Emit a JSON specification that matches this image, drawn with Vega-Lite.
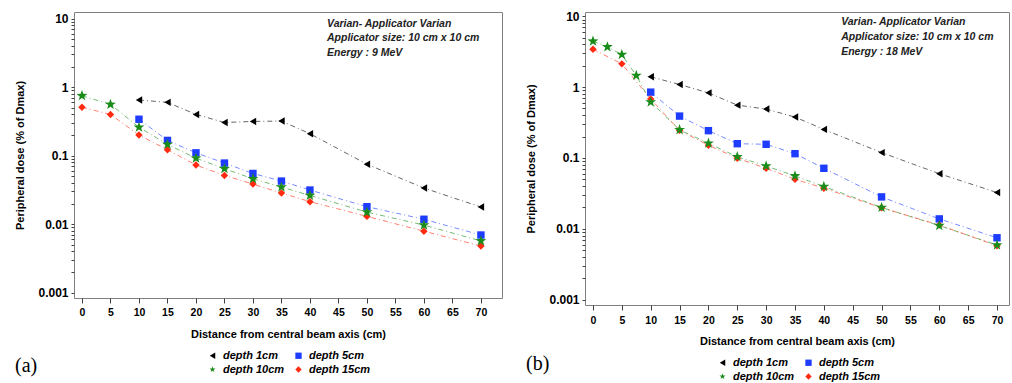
{
  "$schema": "https://vega.github.io/schema/vega-lite/v6.json",
  "background": "white",
  "padding": {"left": 14, "top": 9, "right": 0, "bottom": 0},
  "spacing": 22,
  "datasets": {
    "dose": [
      {"panel": "a", "series": "depth 1cm", "x": 10, "y": 0.65},
      {"panel": "a", "series": "depth 1cm", "x": 15, "y": 0.6},
      {"panel": "a", "series": "depth 1cm", "x": 20, "y": 0.4},
      {"panel": "a", "series": "depth 1cm", "x": 25, "y": 0.305},
      {"panel": "a", "series": "depth 1cm", "x": 30, "y": 0.316},
      {"panel": "a", "series": "depth 1cm", "x": 35, "y": 0.32},
      {"panel": "a", "series": "depth 1cm", "x": 40, "y": 0.209},
      {"panel": "a", "series": "depth 1cm", "x": 50, "y": 0.075},
      {"panel": "a", "series": "depth 1cm", "x": 60, "y": 0.0337},
      {"panel": "a", "series": "depth 1cm", "x": 70, "y": 0.0178},
      {"panel": "a", "series": "depth 5cm", "x": 10, "y": 0.34},
      {"panel": "a", "series": "depth 5cm", "x": 15, "y": 0.167},
      {"panel": "a", "series": "depth 5cm", "x": 20, "y": 0.11},
      {"panel": "a", "series": "depth 5cm", "x": 25, "y": 0.078},
      {"panel": "a", "series": "depth 5cm", "x": 30, "y": 0.055},
      {"panel": "a", "series": "depth 5cm", "x": 35, "y": 0.0426},
      {"panel": "a", "series": "depth 5cm", "x": 40, "y": 0.0315},
      {"panel": "a", "series": "depth 5cm", "x": 50, "y": 0.018},
      {"panel": "a", "series": "depth 5cm", "x": 60, "y": 0.0118},
      {"panel": "a", "series": "depth 5cm", "x": 70, "y": 0.00695},
      {"panel": "a", "series": "depth 10cm", "x": 0, "y": 0.75},
      {"panel": "a", "series": "depth 10cm", "x": 5, "y": 0.56},
      {"panel": "a", "series": "depth 10cm", "x": 10, "y": 0.26},
      {"panel": "a", "series": "depth 10cm", "x": 15, "y": 0.146},
      {"panel": "a", "series": "depth 10cm", "x": 20, "y": 0.092},
      {"panel": "a", "series": "depth 10cm", "x": 25, "y": 0.0645},
      {"panel": "a", "series": "depth 10cm", "x": 30, "y": 0.046},
      {"panel": "a", "series": "depth 10cm", "x": 35, "y": 0.0348},
      {"panel": "a", "series": "depth 10cm", "x": 40, "y": 0.0263},
      {"panel": "a", "series": "depth 10cm", "x": 50, "y": 0.015},
      {"panel": "a", "series": "depth 10cm", "x": 60, "y": 0.0097},
      {"panel": "a", "series": "depth 10cm", "x": 70, "y": 0.0057},
      {"panel": "a", "series": "depth 15cm", "x": 0, "y": 0.51},
      {"panel": "a", "series": "depth 15cm", "x": 5, "y": 0.4},
      {"panel": "a", "series": "depth 15cm", "x": 10, "y": 0.2},
      {"panel": "a", "series": "depth 15cm", "x": 15, "y": 0.122},
      {"panel": "a", "series": "depth 15cm", "x": 20, "y": 0.073},
      {"panel": "a", "series": "depth 15cm", "x": 25, "y": 0.0515},
      {"panel": "a", "series": "depth 15cm", "x": 30, "y": 0.0385},
      {"panel": "a", "series": "depth 15cm", "x": 35, "y": 0.0285},
      {"panel": "a", "series": "depth 15cm", "x": 40, "y": 0.0213},
      {"panel": "a", "series": "depth 15cm", "x": 50, "y": 0.013},
      {"panel": "a", "series": "depth 15cm", "x": 60, "y": 0.0079},
      {"panel": "a", "series": "depth 15cm", "x": 70, "y": 0.0048},
      {"panel": "b", "series": "depth 1cm", "x": 10, "y": 1.4},
      {"panel": "b", "series": "depth 1cm", "x": 15, "y": 1.09},
      {"panel": "b", "series": "depth 1cm", "x": 20, "y": 0.83},
      {"panel": "b", "series": "depth 1cm", "x": 25, "y": 0.557},
      {"panel": "b", "series": "depth 1cm", "x": 30, "y": 0.49},
      {"panel": "b", "series": "depth 1cm", "x": 35, "y": 0.378},
      {"panel": "b", "series": "depth 1cm", "x": 40, "y": 0.253},
      {"panel": "b", "series": "depth 1cm", "x": 50, "y": 0.119},
      {"panel": "b", "series": "depth 1cm", "x": 60, "y": 0.06},
      {"panel": "b", "series": "depth 1cm", "x": 70, "y": 0.0325},
      {"panel": "b", "series": "depth 5cm", "x": 10, "y": 0.85},
      {"panel": "b", "series": "depth 5cm", "x": 15, "y": 0.39},
      {"panel": "b", "series": "depth 5cm", "x": 20, "y": 0.243},
      {"panel": "b", "series": "depth 5cm", "x": 25, "y": 0.159},
      {"panel": "b", "series": "depth 5cm", "x": 30, "y": 0.156},
      {"panel": "b", "series": "depth 5cm", "x": 35, "y": 0.115},
      {"panel": "b", "series": "depth 5cm", "x": 40, "y": 0.0715},
      {"panel": "b", "series": "depth 5cm", "x": 50, "y": 0.0282},
      {"panel": "b", "series": "depth 5cm", "x": 60, "y": 0.0138},
      {"panel": "b", "series": "depth 5cm", "x": 70, "y": 0.00747},
      {"panel": "b", "series": "depth 10cm", "x": 0, "y": 4.45},
      {"panel": "b", "series": "depth 10cm", "x": 2.5, "y": 3.7},
      {"panel": "b", "series": "depth 10cm", "x": 5, "y": 2.88},
      {"panel": "b", "series": "depth 10cm", "x": 7.5, "y": 1.46},
      {"panel": "b", "series": "depth 10cm", "x": 10, "y": 0.615},
      {"panel": "b", "series": "depth 10cm", "x": 15, "y": 0.25},
      {"panel": "b", "series": "depth 10cm", "x": 20, "y": 0.161},
      {"panel": "b", "series": "depth 10cm", "x": 25, "y": 0.104},
      {"panel": "b", "series": "depth 10cm", "x": 30, "y": 0.077},
      {"panel": "b", "series": "depth 10cm", "x": 35, "y": 0.0557},
      {"panel": "b", "series": "depth 10cm", "x": 40, "y": 0.0395},
      {"panel": "b", "series": "depth 10cm", "x": 50, "y": 0.02},
      {"panel": "b", "series": "depth 10cm", "x": 60, "y": 0.0111},
      {"panel": "b", "series": "depth 10cm", "x": 70, "y": 0.0059},
      {"panel": "b", "series": "depth 15cm", "x": 0, "y": 3.43},
      {"panel": "b", "series": "depth 15cm", "x": 5, "y": 2.13},
      {"panel": "b", "series": "depth 15cm", "x": 10, "y": 0.68},
      {"panel": "b", "series": "depth 15cm", "x": 15, "y": 0.245},
      {"panel": "b", "series": "depth 15cm", "x": 20, "y": 0.151},
      {"panel": "b", "series": "depth 15cm", "x": 25, "y": 0.099},
      {"panel": "b", "series": "depth 15cm", "x": 30, "y": 0.0715},
      {"panel": "b", "series": "depth 15cm", "x": 35, "y": 0.05},
      {"panel": "b", "series": "depth 15cm", "x": 40, "y": 0.0374},
      {"panel": "b", "series": "depth 15cm", "x": 50, "y": 0.0198},
      {"panel": "b", "series": "depth 15cm", "x": 60, "y": 0.0113},
      {"panel": "b", "series": "depth 15cm", "x": 70, "y": 0.00576}
    ],
    "notes": [
      {"panel": "a", "x": 43, "y": 8.4, "text": "Varian- Applicator Varian"},
      {"panel": "a", "x": 43, "y": 5.2, "text": "Applicator size: 10 cm x 10 cm"},
      {"panel": "a", "x": 43, "y": 3.15, "text": "Energy : 9 MeV"},
      {"panel": "b", "x": 43, "y": 8.3, "text": "Varian- Applicator Varian"},
      {"panel": "b", "x": 43, "y": 5.1, "text": "Applicator size: 10 cm x 10 cm"},
      {"panel": "b", "x": 43, "y": 3.13, "text": "Energy : 18 MeV"}
    ]
  },
  "resolve": {
    "scale": {"x": "independent", "y": "independent", "color": "independent", "shape": "independent", "stroke": "independent"},
    "legend": {"color": "independent", "shape": "independent"}
  },
  "hconcat": [
    {
      "width": 428,
      "height": 286,
      "title": {"text": "(a)", "orient": "bottom", "anchor": "start", "frame": "bounds", "font": "Liberation Serif", "fontSize": 20, "fontWeight": "normal", "dy": -19, "offset": 0},
      "encoding": {
        "x": {"field": "x", "type": "quantitative", "scale": {"domain": [-1.4, 73.7], "nice": false, "zero": false},
          "axis": {"title": "Distance from central beam axis (cm)", "values": [0, 5, 10, 15, 20, 25, 30, 35, 40, 45, 50, 55, 60, 65, 70], "tickCount": 15, "ticks": true, "tickSize": 5, "labelFont": "Liberation Sans Narrow, Liberation Sans, sans-serif", "labelFontSize": 10.5, "labelPadding": 4, "titlePadding": 11, "labelOverlap": false}},
        "y": {"field": "y", "type": "quantitative", "scale": {"type": "log", "domain": [0.000837, 12.5], "nice": false},
          "axis": {"title": "Peripheral dose (% of Dmax)", "values": [0.001, 0.002, 0.003, 0.004, 0.005, 0.006, 0.007, 0.008, 0.009, 0.01, 0.02, 0.03, 0.04, 0.05, 0.06, 0.07, 0.08, 0.09, 0.1, 0.2, 0.3, 0.4, 0.5, 0.6, 0.7, 0.8, 0.9, 1, 2, 3, 4, 5, 6, 7, 8, 9, 10],
            "labelExpr": "abs(log(datum.value)/LN10 - round(log(datum.value)/LN10)) < 0.001 ? format(datum.value, '~g') : ''",
            "labelOverlap": false, "labelFontSize": 12, "labelPadding": 3, "ticks": true, "tickSize": 3, "titlePadding": 12}}
      },
      "layer": [
        {
          "data": {"name": "dose"},
          "transform": [{"filter": "datum.panel == 'a'"}],
          "mark": {"type": "line", "strokeWidth": 1, "strokeDash": [5, 3, 1, 3], "opacity": 0.6},
          "encoding": {
            "stroke": {"field": "series", "type": "nominal", "scale": {"domain": ["depth 15cm", "depth 10cm", "depth 5cm", "depth 1cm"], "range": ["#ff2a10", "#1a8c1a", "#1e3cff", "#000000"]}, "legend": null}
          }
        },
        {
          "data": {"name": "dose"},
          "transform": [{"filter": "datum.panel == 'a' && datum.series != 'depth 10cm'"}],
          "mark": {"type": "point", "filled": true, "opacity": 1, "size": 55},
          "encoding": {
            "color": {"field": "series", "type": "nominal", "scale": {"domain": ["depth 1cm", "depth 5cm", "depth 10cm", "depth 15cm"], "range": ["#000000", "#1e3cff", "#1a8c1a", "#ff2a10"]},
              "legend": {"orient": "none", "legendX": 133, "legendY": 338, "columns": 2, "direction": "horizontal", "title": null}},
            "shape": {"field": "series", "type": "nominal", "scale": {"domain": ["depth 1cm", "depth 5cm", "depth 10cm", "depth 15cm"], "range": ["triangle-left", "square", "M0,-1L0.235,-0.324L0.951,-0.309L0.38,0.124L0.588,0.809L0,0.4L-0.588,0.809L-0.38,0.124L-0.951,-0.309L-0.235,-0.324Z", "diamond"]},
              "legend": {"orient": "none", "legendX": 133, "legendY": 338, "columns": 2, "direction": "horizontal", "title": null}}
          }
        },
        {
          "data": {"name": "dose"},
          "transform": [{"filter": "datum.panel == 'a' && datum.series == 'depth 10cm'"}],
          "mark": {"type": "point", "filled": true, "opacity": 1, "size": 130},
          "encoding": {
            "color": {"field": "series", "type": "nominal", "scale": {"domain": ["depth 1cm", "depth 5cm", "depth 10cm", "depth 15cm"], "range": ["#000000", "#1e3cff", "#1a8c1a", "#ff2a10"]},
              "legend": {"orient": "none", "legendX": 133, "legendY": 338, "columns": 2, "direction": "horizontal", "title": null}},
            "shape": {"field": "series", "type": "nominal", "scale": {"domain": ["depth 1cm", "depth 5cm", "depth 10cm", "depth 15cm"], "range": ["triangle-left", "square", "M0,-1L0.235,-0.324L0.951,-0.309L0.38,0.124L0.588,0.809L0,0.4L-0.588,0.809L-0.38,0.124L-0.951,-0.309L-0.235,-0.324Z", "diamond"]},
              "legend": {"orient": "none", "legendX": 133, "legendY": 338, "columns": 2, "direction": "horizontal", "title": null}}
          }
        },
        {
          "data": {"name": "notes"},
          "transform": [{"filter": "datum.panel == 'a'"}],
          "mark": {"type": "text", "align": "left", "baseline": "middle", "font": "Liberation Sans", "fontSize": 10.5, "fontWeight": "bold", "fontStyle": "italic", "color": "#222"},
          "encoding": {
            "text": {"field": "text"}
          }
        }
      ]
    },
    {
      "width": 424,
      "height": 293,
      "title": {"text": "(b)", "orient": "bottom", "anchor": "start", "frame": "bounds", "font": "Liberation Serif", "fontSize": 20, "fontWeight": "normal", "dy": -28, "offset": 0},
      "encoding": {
        "x": {"field": "x", "type": "quantitative", "scale": {"domain": [-1.386, 72.08], "nice": false, "zero": false},
          "axis": {"title": "Distance from central beam axis (cm)", "values": [0, 5, 10, 15, 20, 25, 30, 35, 40, 45, 50, 55, 60, 65, 70], "tickCount": 15, "ticks": true, "tickSize": 5, "labelFont": "Liberation Sans Narrow, Liberation Sans, sans-serif", "labelFontSize": 10.5, "labelPadding": 5, "titlePadding": 10, "labelOverlap": false}},
        "y": {"field": "y", "type": "quantitative", "scale": {"type": "log", "domain": [0.00084, 11.5], "nice": false},
          "axis": {"title": "Peripheral dose (% of Dmax)", "values": [0.001, 0.002, 0.003, 0.004, 0.005, 0.006, 0.007, 0.008, 0.009, 0.01, 0.02, 0.03, 0.04, 0.05, 0.06, 0.07, 0.08, 0.09, 0.1, 0.2, 0.3, 0.4, 0.5, 0.6, 0.7, 0.8, 0.9, 1, 2, 3, 4, 5, 6, 7, 8, 9, 10],
            "labelExpr": "abs(log(datum.value)/LN10 - round(log(datum.value)/LN10)) < 0.001 ? format(datum.value, '~g') : ''",
            "labelOverlap": false, "labelFontSize": 12, "labelPadding": 3, "ticks": true, "tickSize": 3, "titlePadding": 12}}
      },
      "layer": [
        {
          "data": {"name": "dose"},
          "transform": [{"filter": "datum.panel == 'b'"}],
          "mark": {"type": "line", "strokeWidth": 1, "strokeDash": [5, 3, 1, 3], "opacity": 0.6},
          "encoding": {
            "stroke": {"field": "series", "type": "nominal", "scale": {"domain": ["depth 15cm", "depth 10cm", "depth 5cm", "depth 1cm"], "range": ["#ff2a10", "#1a8c1a", "#1e3cff", "#000000"]}, "legend": null}
          }
        },
        {
          "data": {"name": "dose"},
          "transform": [{"filter": "datum.panel == 'b' && datum.series != 'depth 10cm'"}],
          "mark": {"type": "point", "filled": true, "opacity": 1, "size": 55},
          "encoding": {
            "color": {"field": "series", "type": "nominal", "scale": {"domain": ["depth 1cm", "depth 5cm", "depth 10cm", "depth 15cm"], "range": ["#000000", "#1e3cff", "#1a8c1a", "#ff2a10"]},
              "legend": {"orient": "none", "legendX": 132, "legendY": 345, "columns": 2, "direction": "horizontal", "title": null}},
            "shape": {"field": "series", "type": "nominal", "scale": {"domain": ["depth 1cm", "depth 5cm", "depth 10cm", "depth 15cm"], "range": ["triangle-left", "square", "M0,-1L0.235,-0.324L0.951,-0.309L0.38,0.124L0.588,0.809L0,0.4L-0.588,0.809L-0.38,0.124L-0.951,-0.309L-0.235,-0.324Z", "diamond"]},
              "legend": {"orient": "none", "legendX": 132, "legendY": 345, "columns": 2, "direction": "horizontal", "title": null}}
          }
        },
        {
          "data": {"name": "dose"},
          "transform": [{"filter": "datum.panel == 'b' && datum.series == 'depth 10cm'"}],
          "mark": {"type": "point", "filled": true, "opacity": 1, "size": 130},
          "encoding": {
            "color": {"field": "series", "type": "nominal", "scale": {"domain": ["depth 1cm", "depth 5cm", "depth 10cm", "depth 15cm"], "range": ["#000000", "#1e3cff", "#1a8c1a", "#ff2a10"]},
              "legend": {"orient": "none", "legendX": 132, "legendY": 345, "columns": 2, "direction": "horizontal", "title": null}},
            "shape": {"field": "series", "type": "nominal", "scale": {"domain": ["depth 1cm", "depth 5cm", "depth 10cm", "depth 15cm"], "range": ["triangle-left", "square", "M0,-1L0.235,-0.324L0.951,-0.309L0.38,0.124L0.588,0.809L0,0.4L-0.588,0.809L-0.38,0.124L-0.951,-0.309L-0.235,-0.324Z", "diamond"]},
              "legend": {"orient": "none", "legendX": 132, "legendY": 345, "columns": 2, "direction": "horizontal", "title": null}}
          }
        },
        {
          "data": {"name": "notes"},
          "transform": [{"filter": "datum.panel == 'b'"}],
          "mark": {"type": "text", "align": "left", "baseline": "middle", "font": "Liberation Sans", "fontSize": 10.5, "fontWeight": "bold", "fontStyle": "italic", "color": "#222", "limit": 168, "ellipsis": ""},
          "encoding": {
            "text": {"field": "text"}
          }
        }
      ]
    }
  ],
  "config": {
    "font": "Liberation Sans",
    "view": {"stroke": "#808080", "strokeWidth": 1},
    "axis": {"grid": false, "domain": false, "tickColor": "#404040", "tickWidth": 1, "labelColor": "#000000", "titleColor": "#000000", "labelFont": "Liberation Sans", "titleFont": "Liberation Sans", "titleFontWeight": "bold", "titleFontSize": 11, "labelFontWeight": "bold"},
    "legend": {"labelFont": "Liberation Sans", "labelFontSize": 11, "labelFontStyle": "italic", "labelFontWeight": "bold", "labelColor": "#000000", "symbolSize": 40, "padding": 0, "rowPadding": 2, "columnPadding": 8, "labelOffset": 5, "symbolStrokeWidth": 0, "labelLimit": 200}
  }
}
